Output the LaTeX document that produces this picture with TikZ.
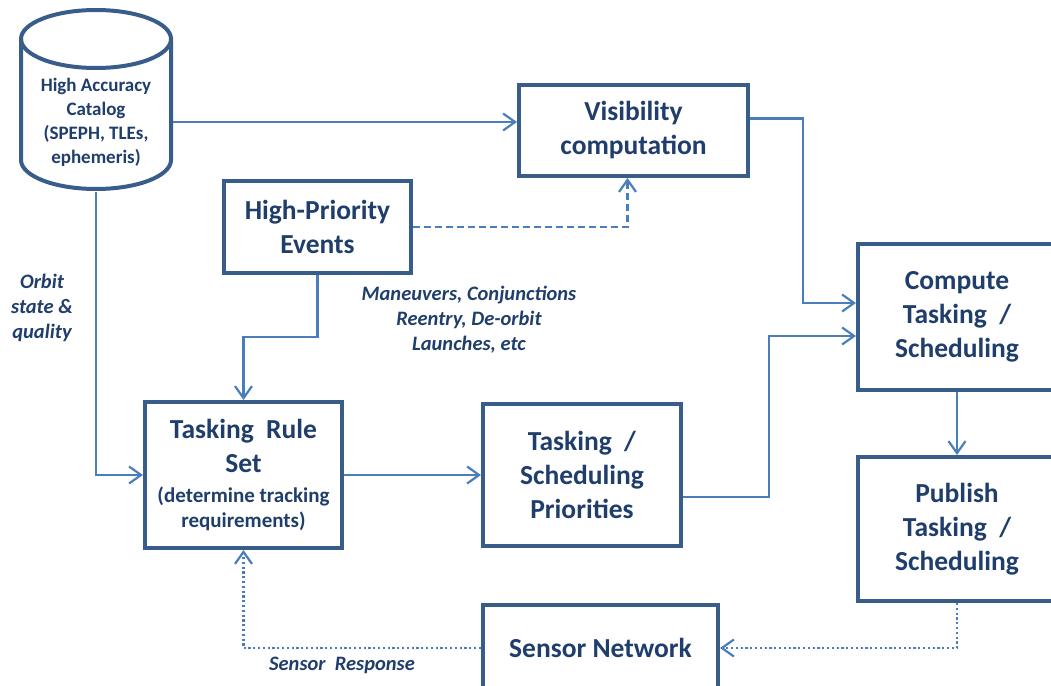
\documentclass[tikz,border=0pt]{standalone}
\usepackage{fontspec}
\setmainfont{Carlito}
\usetikzlibrary{arrows.meta}
\definecolor{boxblue}{RGB}{56,93,138}
\definecolor{lineblue}{RGB}{74,126,187}
\definecolor{txtblue}{RGB}{31,62,108}
\newcommand\bigtxt{\fontsize{27.5}{34}\selectfont\bfseries}
\newcommand\smalltxt{\fontsize{19}{24}\selectfont\bfseries}
\newcommand\lbltxt{\fontsize{20.5}{25}\selectfont\bfseries\itshape}

\begin{document}
\begin{tikzpicture}[x=1pt, y=-1pt,
    box/.style={draw=boxblue, line width=4pt, fill=white, text=txtblue, font=\bigtxt, align=center, inner sep=0pt},
    flow/.style={draw=lineblue, line width=2.2pt, -{Straight Barb[length=12pt,width=17pt]}},
    dashline/.style={flow, dash pattern=on 7pt off 4pt},
    dotline/.style={flow, dash pattern=on 2.2pt off 2.6pt},
    lbl/.style={text=txtblue, font=\lbltxt, align=center}]
    \useasboundingbox (0,0) rectangle (1051,685);
    \clip (0,0) rectangle (1051,685);
    \draw [boxblue, line width=4pt, fill=white] (21,39) -- (21,160)
        arc [start angle=180, end angle=360, x radius=75pt, y radius=29pt] -- (171,39);
    \draw [boxblue, line width=4pt] (96,39) ellipse [x radius=75pt, y radius=29pt];
    \node [box, draw=none, fill=none, font=\smalltxt, minimum width=150pt, minimum height=136pt] (cat) at (96,122)
        {High Accuracy\\Catalog\\(SPEPH, TLEs,\\ephemeris)};
    \node [box, minimum width=229pt, minimum height=91pt] (vis) at (633.5,130.5) {Visibility\\computation};
    \node [box, minimum width=187pt, minimum height=92pt] (hpe) at (317.5,227) {High-Priority\\Events};
    \node [box, minimum width=198pt, minimum height=146pt] (comp) at (957,317) {Compute\\Tasking\ \ /\\Scheduling};
    \node [box, minimum width=197pt, minimum height=146pt] (rule) at (243.5,475)
        {Tasking\ \ Rule\\Set\\[-4pt]{\fontsize{21}{24}\selectfont (determine tracking}\\[-9pt]{\fontsize{21}{24}\selectfont requirements)}};
    \node [box, minimum width=198pt, minimum height=142pt] (prio) at (582,475) {Tasking\ \ /\\Scheduling\\Priorities};
    \node [box, minimum width=198pt, minimum height=144pt] (pub) at (957,529) {Publish\\Tasking\ \ /\\Scheduling};
    \node [box, minimum width=235pt, minimum height=86pt] (sens) at (600.5,648) {Sensor Network};
    \node [lbl] (orbit) at (42,308) {Orbit\\state \&\\quality};
    \node [lbl] (events) at (469,320) {Maneuvers, Conjunctions\\Reentry, De-orbit\\Launches, etc};
    \node [lbl] (resp) at (342,665) {Sensor\ \ Response};
    \draw [flow] (cat.east) -- (cat.east -| vis.west);
    \draw [flow] (cat.south) |- (rule.west);
    \draw [dashline] (hpe.east) -| ([xshift=-6pt]vis.south);
    \draw [flow] (hpe.south) -- ++(0,62) -| (rule.north);
    \draw [flow] ([yshift=12pt]vis.east) -- ++(53,0) |- ([yshift=14pt]comp.west);
    \draw [flow] (rule.east) -- (prio.west);
    \draw [flow] ([yshift=-22pt]prio.east) -- ++(86,0) |- ([yshift=-19pt]comp.west);
    \draw [flow] (comp.south) -- (pub.north);
    \draw [dotline] (pub.south) |- (sens.east);
    \draw [dotline] (sens.west) -| (rule.south);
\end{tikzpicture}
\end{document}
